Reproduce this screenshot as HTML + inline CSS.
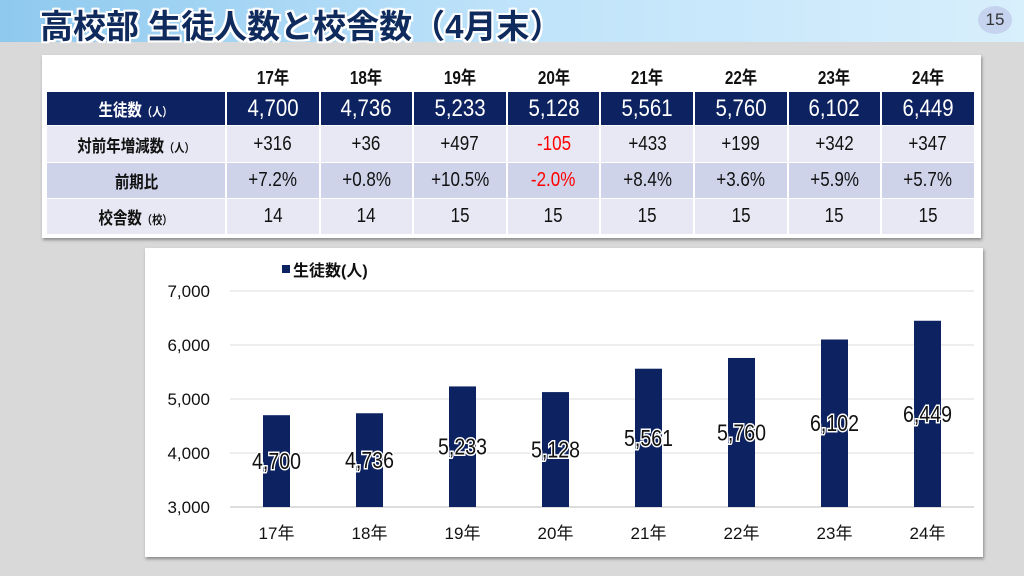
<!DOCTYPE html>
<html><head><meta charset="utf-8"><style>
body{margin:0;width:1024px;height:576px;overflow:hidden;background:#d9d9d9;font-family:"Liberation Sans","Noto Sans CJK JP",sans-serif;position:relative}
#title-bar{position:absolute;left:0;top:0;width:1024px;height:42px;background:linear-gradient(90deg,#8ec9ee 0%,#bfe3fa 50%,#d8effc 100%)}
#title{position:absolute;left:40px;top:0px;font:bold 33px "Liberation Sans","Noto Sans CJK JP",sans-serif;color:#0f2a5c;text-shadow:-2px 0 #fff,2px 0 #fff,0 -2px #fff,0 2px #fff,2px 2px #fff,-2px -2px #fff,2px -2px #fff,-2px 2px #fff}
#pg{position:absolute;left:978px;top:6px;width:34px;height:28px;border-radius:50%;background:#c5d3ee;color:#333;font-size:17px;text-align:center;line-height:28px}
#tbl{position:absolute;left:42px;top:55px;width:939px;height:183px;background:#fff;box-shadow:1px 2px 3px #888}
.c{position:absolute;display:flex;align-items:center;justify-content:center;box-sizing:border-box}
.n{display:inline-block;transform:scaleX(.85)}
#chart{position:absolute;left:145px;top:248px;width:838px;height:309px;background:#fff;box-shadow:1px 2px 3px #888}
</style></head><body>
<div id="title-bar"></div>
<div id="title">高校部 生徒人数と校舎数（4月末）</div>
<div id="pg">15</div>
<div id="tbl"></div>
<div id="chart"><svg id="svg" width="838" height="309"></svg></div>
<script>
const years=["17年","18年","19年","20年","21年","22年","23年","24年"];
const students=[4700,4736,5233,5128,5561,5760,6102,6449];
const diffs=["+316","+36","+497","-105","+433","+199","+342","+347"];
const ratios=["+7.2%","+0.8%","+10.5%","-2.0%","+8.4%","+3.6%","+5.9%","+5.7%"];
const schools=[14,14,15,15,15,15,15,15];
const yTicks=[3000,4000,5000,6000,7000];
const fmt=v=>v.toLocaleString('en-US');

const tbl=document.getElementById('tbl');
function cell(x,y,w,h,txt,st,name){const d=document.createElement('div');d.className='c';


d.style.cssText=`left:${x}px;top:${y}px;width:${w}px;height:${h}px;`+st;d.innerHTML='<span class="n">'+txt+'</span>';tbl.appendChild(d);return d;}
const L=5,LW=180,CW=93.6,rows=[[5,33],[37,33],[71,36],[108,35],[144,35]];
const rowBg=['#fff','#0d2260','#e7e8f3','#cfd3e9','#e7e8f3'];
const labels=['','生徒数<span style="font-size:12px">（人）</span>','対前年増減数<span style="font-size:12px">（人）</span>','前期比','校舎数<span style="font-size:12px">（校）</span>'];
const rowData=[years,students.map(fmt),diffs,ratios,schools.map(String)];
for(let r=0;r<5;r++){const [y,h]=rows[r];const bg=rowBg[r];const fc=r==1?'#fff':'#111';
cell(L,y,LW,h,labels[r],`background:${bg};color:${fc};font:bold 17px "Liberation Sans","Noto Sans CJK JP",sans-serif;border-right:2px solid #fff`,'row-label-'+r);
for(let i=0;i<8;i++){const v=rowData[r][i];const red=(r==2||r==3)&&v.startsWith('-');
cell(L+LW+i*CW,y,CW,h,v,`background:${bg};color:${red?'#f00':fc};font-size:${r==1?24:r==0?18:20}px;${r==0?'font-weight:bold;':''}border-right:2px solid #fff`,'cell-'+r+'-'+i);}}

const svg=document.getElementById('svg');const NS='http://www.w3.org/2000/svg';
const px0=85,pw=744,py0=43,ph=216,ymin=3000,ymax=7000;
const yS=v=>py0+ph*(ymax-v)/(ymax-ymin);const bw=pw/years.length;const xS=i=>px0+bw*(i+0.5);
function el(t,a,txt){const e=document.createElementNS(NS,t);for(const k in a)e.setAttribute(k,a[k]);if(txt!=null)e.textContent=txt;svg.appendChild(e);return e;}
yTicks.forEach(t=>{const g=el('line',{x1:px0,x2:px0+pw,y1:yS(t),y2:yS(t),stroke:t==ymin?'#bbb':'#ddd'});


const l=el('text',{x:65,y:yS(t)+6,'text-anchor':'end','font-size':17,fill:'#111'},fmt(t));

});
students.forEach((v,i)=>{const b=el('rect',{x:xS(i)-13.5,y:yS(v),width:27,height:yS(ymin)-yS(v),fill:'#0d2260'});


const ly=(yS(v)+yS(ymin))/2+8;
const t=el('text',{x:0,y:0,'text-anchor':'middle','font-size':23,fill:'#111',stroke:'#fff','stroke-width':3,'paint-order':'stroke',transform:`translate(${xS(i)},${ly}) scale(0.85,1)`},fmt(v));


const x=el('text',{x:xS(i),y:yS(ymin)+32,'text-anchor':'middle','font-size':17,fill:'#111'},years[i]);

});
const lm=el('rect',{x:137,y:17,width:8,height:8,fill:'#0d2260'});


const lt=el('text',{x:148,y:28,'font-size':16,fill:'#111','font-weight':'bold'},'生徒数(人)');


</script>
</body></html>
